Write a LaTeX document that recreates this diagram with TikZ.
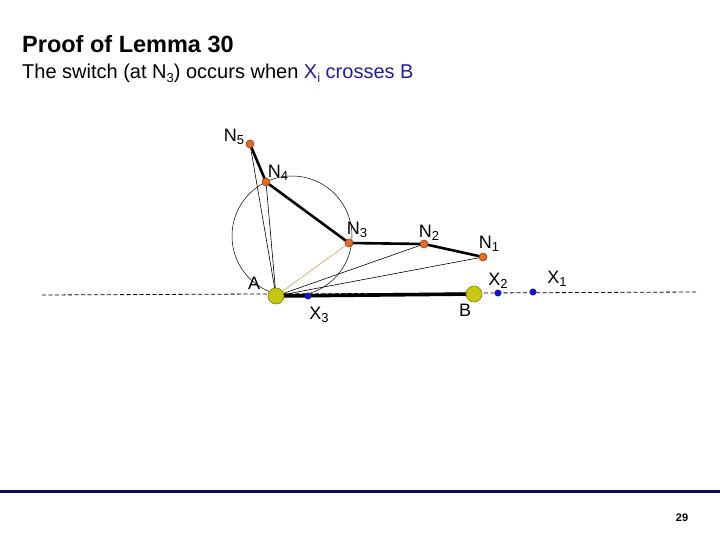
\documentclass[tikz,border=0pt]{standalone}
\usepackage{fontspec}
\setmainfont{Liberation Sans}
\definecolor{orangedot}{RGB}{225,110,40}
\definecolor{orangeedge}{RGB}{150,60,20}
\definecolor{yellowdot}{RGB}{200,200,20}
\definecolor{yellowedge}{RGB}{130,130,0}
\definecolor{bluedot}{RGB}{20,20,200}
\definecolor{navy}{RGB}{10,10,100}
\definecolor{titleblue}{RGB}{30,30,160}
\definecolor{tanline}{RGB}{195,165,95}
\newcommand\lsub[2]{\raisebox{-#2}{\fontsize{13}{14}\selectfont #1}}
\begin{document}
\begin{tikzpicture}[x=1pt,y=-1pt,
  ndot/.style={circle,fill=orangedot,draw=orangeedge,line width=0.6pt,inner sep=0pt,minimum size=8pt},
  ydot/.style={circle,fill=yellowdot,draw=yellowedge,line width=0.6pt,inner sep=0pt,minimum size=16pt},
  xdot/.style={circle,fill=bluedot,inner sep=0pt,minimum size=7pt},
  lbl/.style={font=\fontsize{18}{20}\selectfont,inner sep=0pt},
  thick chain/.style={line width=2.6pt},
  thin/.style={line width=0.6pt}]
\useasboundingbox (0,0) rectangle (720,540);
\fill[white] (0,0) rectangle (720,540);
% title
\node[anchor=base west,inner sep=0pt,font=\fontsize{23.5}{26}\selectfont\bfseries] (title) at (22,53) {Proof of Lemma 30};
\node[anchor=base west,inner sep=0pt,font=\fontsize{20}{22}\selectfont] (sub) at (22,79) {The switch (at N\lsub{3}{4pt}) occurs when \textcolor{titleblue}{X\lsub{i}{4pt} crosses B}};
% coordinates
\coordinate (N5) at (250,144);
\coordinate (N4) at (266,182);
\coordinate (N3) at (349,243);
\coordinate (N2) at (424,244);
\coordinate (N1) at (483,257);
\coordinate (A) at (276,296);
\coordinate (B) at (474,294);
\coordinate (X3) at (308,296);
\coordinate (X2) at (498,293);
\coordinate (X1) at (533,292);
\coordinate (L0) at (42,295);
\coordinate (L1) at (697,292);
\coordinate (C) at (292,236);
% dashed line
\draw[line width=0.8pt,dash pattern=on 4pt off 2.5pt,black] (L0) -- (L1);
% circle
\draw[line width=0.5pt] (C) circle[radius=60];
% fan from A
\draw[thin] (A) -- (N5);
\draw[thin] (A) -- (N4);
\draw[thin,tanline] (A) -- (N3);
\draw[thin] (A) -- (N2);
\draw[thin] (A) -- (N1);
% thick chain
\draw[thick chain,line join=round] (N5) -- (N4) -- (N3) -- (N2) -- (N1);
\draw[line width=3.6pt] (A) -- (B);
% dots
\node[ndot] (n5) at (N5) {};
\node[ndot] (n4) at (N4) {};
\node[ndot] (n3) at (N3) {};
\node[ndot] (n2) at (N2) {};
\node[ndot] (n1) at (N1) {};
\node[ydot] (a) at (A) {};
\node[ydot] (b) at (B) {};
\node[xdot] (x3) at (X3) {};
\node[xdot] (x2) at (X2) {};
\node[xdot] (x1) at (X1) {};
% labels
\node[lbl] (ln5) at (234,137) {N\lsub{5}{3pt}};
\node[lbl] (ln4) at (278,173) {N\lsub{4}{3pt}};
\node[lbl] (ln3) at (357,230) {N\lsub{3}{3pt}};
\node[lbl] (ln2) at (429,233) {N\lsub{2}{3pt}};
\node[lbl] (ln1) at (489,244) {N\lsub{1}{3pt}};
\node[lbl] (la) at (254,283) {A};
\node[lbl] (lb) at (465,310) {B};
\node[lbl] (lx3) at (319,315) {X\lsub{3}{3pt}};
\node[lbl] (lx2) at (498,281) {X\lsub{2}{3pt}};
\node[lbl] (lx1) at (557,279) {X\lsub{1}{3pt}};
% bottom bar
\draw[navy,line width=3pt] (0,491) -- (720,491);
\node[inner sep=0pt,font=\fontsize{11}{12}\selectfont\bfseries] (pg) at (682,518) {29};
\end{tikzpicture}
\end{document}
